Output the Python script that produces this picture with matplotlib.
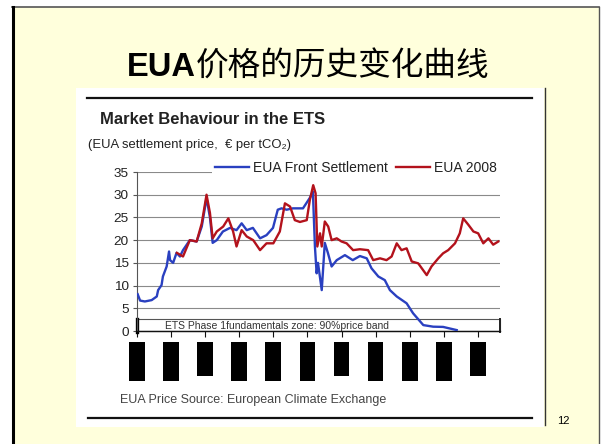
import numpy as np
import matplotlib
matplotlib.use("Agg")
import matplotlib.pyplot as plt
from matplotlib.patches import Rectangle
from matplotlib.lines import Line2D

plt.rcParams["font.family"] = ["Liberation Sans", "DejaVu Sans"]

# x positions are in units of the (hidden) date ticks, 0..10
front_x = [0.02, 0.09, 0.23, 0.43, 0.58, 0.62, 0.72, 0.76, 0.87, 0.94, 0.97,
           1.06, 1.16, 1.26, 1.35, 1.55, 1.75, 1.90, 1.99, 2.04, 2.14, 2.22,
           2.34, 2.52, 2.73, 2.92, 3.07, 3.22, 3.40, 3.61, 3.80, 3.99, 4.13,
           4.24, 4.39, 4.57, 4.87, 5.07, 5.16, 5.22, 5.27, 5.31, 5.42, 5.51,
           5.60, 5.71, 5.86, 6.10, 6.33, 6.54, 6.74, 6.88, 7.08, 7.27, 7.42,
           7.62, 7.91, 8.10, 8.40, 8.69, 8.98, 9.38]
front_y = [8.1, 6.7, 6.5, 6.8, 7.6, 9.0, 10.1, 12.0, 14.2, 17.5, 15.6,
           15.0, 17.2, 16.4, 17.8, 20.0, 19.7, 23.0, 27.0, 29.3, 25.0, 19.4,
           20.0, 21.9, 22.7, 22.2, 23.7, 22.2, 22.7, 20.4, 21.1, 22.7, 26.7,
           27.0, 26.7, 27.0, 27.0, 29.3, 30.7, 18.6, 12.7, 15.0, 9.0, 19.4,
           17.2, 14.2, 15.6, 16.7, 15.6, 16.5, 16.0, 13.8, 12.0, 11.2, 9.0,
           7.6, 6.1, 3.9, 1.3, 0.95, 0.9, 0.2]

eua08_x = [1.17, 1.35, 1.55, 1.75, 1.90, 2.04, 2.14, 2.22, 2.34, 2.53, 2.68,
           2.82, 2.92, 3.07, 3.22, 3.41, 3.61, 3.80, 4.00, 4.19, 4.34, 4.49,
           4.63, 4.78, 4.98, 5.07, 5.17, 5.24, 5.29, 5.37, 5.42, 5.51, 5.61,
           5.71, 5.86, 6.00, 6.15, 6.34, 6.54, 6.78, 6.93, 7.13, 7.32, 7.47,
           7.62, 7.76, 7.91, 8.06, 8.25, 8.50, 8.64, 8.84, 8.98, 9.13, 9.33,
           9.47, 9.57, 9.72, 9.87, 10.01, 10.16, 10.31, 10.45, 10.60]
eua08_y = [17.2, 16.4, 20.0, 19.7, 23.7, 30.0, 26.0, 20.4, 21.9, 23.0, 24.8,
           21.9, 18.6, 22.2, 20.8, 20.0, 17.8, 19.3, 19.3, 21.9, 28.1, 27.4,
           24.4, 24.0, 24.4, 28.8, 32.1, 30.3, 18.6, 21.5, 18.6, 24.1, 23.0,
           20.0, 20.4, 19.7, 19.3, 17.8, 18.0, 17.8, 15.6, 16.0, 15.6, 16.4,
           19.3, 17.8, 18.2, 15.3, 14.9, 12.3, 14.2, 16.0, 17.1, 17.8, 19.3,
           21.5, 24.8, 23.4, 21.9, 21.5, 19.3, 20.4, 19.0, 19.7]

band_top = 2.6
# hidden date labels, drawn as black blocks
label_ticks = list(range(11))
label_len = [1.0, 1.0, 0.87, 1.0, 1.0, 1.0, 0.87, 1.0, 1.0, 1.0, 0.87]

W, H = 602, 444
XMAX = 10.65


def fx(x):
    return x / W


def fy(y):
    return 1 - y / H


def hline(x0, x1, y, **kw):
    fig.add_artist(Line2D([fx(x0), fx(x1)], [fy(y), fy(y)], transform=fig.transFigure, **kw))


def vline(x, y0, y1, **kw):
    fig.add_artist(Line2D([fx(x), fx(x)], [fy(y0), fy(y1)], transform=fig.transFigure, **kw))


fig = plt.figure(figsize=(W / 100, H / 100), dpi=100)
fig.patch.set_facecolor("white")

# slide
fig.add_artist(Rectangle((fx(12), 0), fx(599) - fx(12), fy(7), transform=fig.transFigure,
                         facecolor="#FFFFDC", edgecolor="none", zorder=-3))
hline(12, 599, 7, color="#555555", lw=1.2, zorder=-2)
vline(13, 7, 444, color="black", lw=2.2, zorder=-2)
vline(599, 7, 444, color="#555555", lw=1.0, zorder=-2)

# pasted picture
fig.add_artist(Rectangle((fx(76), fy(427)), fx(544) - fx(76), fy(88) - fy(427),
                         transform=fig.transFigure, facecolor="white", edgecolor="none", zorder=-2))
vline(545, 88, 425, color="#333333", lw=1.0, zorder=-1)
hline(87, 532, 98, color="#111111", lw=1.6, zorder=-1)
hline(88, 532, 418, color="#111111", lw=1.6, zorder=-1)

fig.text(fx(196), fy(76), "EUA", ha="right", va="baseline", fontsize=23.5,
         fontweight="bold", color="black")
fig.text(fx(196), fy(76), "价格的历史变化曲线", ha="left", va="baseline", fontsize=23.5,
         family=["Noto Sans CJK SC", "DejaVu Sans"], color="black")

fig.text(fx(100), fy(119), "Market Behaviour in the ETS", ha="left", va="center",
         fontsize=12, fontweight="bold", color="#222222")
fig.text(fx(88), fy(145), "(EUA settlement price,  € per tCO₂)", ha="left", va="center",
         fontsize=9.4, color="#222222")
fig.text(fx(120), fy(400), "EUA Price Source: European Climate Exchange", ha="left",
         va="center", fontsize=9, color="#444444")
fig.text(fx(557), fy(421), "12", ha="left", va="center", fontsize=8, color="black")

# main chart
ax = fig.add_axes([fx(137), fy(331), fx(500) - fx(137), fy(172) - fy(331)])
ax.set_facecolor("none")
ax.set_xlim(0, XMAX)
ax.set_ylim(0, 35)
ax.set_yticks(range(0, 36, 5))
ax.set_xticks(label_ticks)
ax.set_xticklabels([])
ax.yaxis.grid(True, color="#8a8a8a", lw=0.8)
ax.set_axisbelow(True)
for s in ["top", "right"]:
    ax.spines[s].set_visible(False)
ax.spines["left"].set_color("#555555")
ax.spines["left"].set_linewidth(0.8)
ax.spines["bottom"].set_color("#111111")
ax.spines["bottom"].set_linewidth(1.0)
ax.tick_params(axis="y", length=3, color="#555555", labelsize=9.7, labelcolor="#222222", pad=3)
ax.tick_params(axis="x", length=4, color="#111111", direction="out")

ax.add_patch(Rectangle((0, 0), XMAX, band_top, fill=False, edgecolor="#555555", lw=0.8,
                       clip_on=False, zorder=1.5))
ax.plot([0, 0], [-0.3, band_top], color="black", lw=2.4, clip_on=False, zorder=1.6)
ax.plot([XMAX, XMAX], [-0.3, band_top], color="#222222", lw=1.4, clip_on=False, zorder=1.6)
ax.text(0.82, 1.1, "ETS Phase 1fundamentals zone: 90%price band", ha="left", va="center",
        fontsize=7.5, color="#333333", zorder=1.7)

blue, = ax.plot(front_x, front_y, color="#2A40C0", lw=1.7, zorder=3,
                label="EUA Front Settlement")
red, = ax.plot(eua08_x, eua08_y, color="#B3121C", lw=1.7, zorder=4, label="EUA 2008")

leg = ax.legend(handles=[blue, red], loc="center", ncol=2,
                bbox_to_anchor=(fx(356), fy(168)), bbox_transform=fig.transFigure,
                fontsize=10, handlelength=2.4, handletextpad=0.3, columnspacing=0.6,
                borderpad=0.25, borderaxespad=0, frameon=True, fancybox=False,
                framealpha=1, facecolor="white", edgecolor="none")
for t in leg.get_texts():
    t.set_color("#222222")

# hidden tick labels as black blocks
bax = fig.add_axes([fx(137), fy(381), fx(500) - fx(137), fy(342) - fy(381)])
bax.set_xlim(0, XMAX)
bax.set_ylim(1, 0)
bax.bar(label_ticks, label_len, width=0.46, bottom=0, color="black", clip_on=False)
bax.axis("off")

fig.savefig("out.png", dpi=100)
